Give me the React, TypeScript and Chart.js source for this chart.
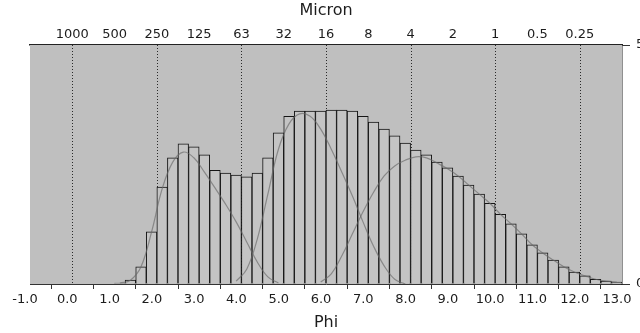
import React, { useEffect, useRef } from "react";
import { Chart, registerables } from "chart.js";

Chart.register(...registerables);

// Phi class start (0.25 phi bins)
const binStart = [1.0, 1.25, 1.5, 1.75, 2.0, 2.25, 2.5, 2.75, 3.0, 3.25, 3.5, 3.75, 4.0, 4.25, 4.5, 4.75, 5.0, 5.25, 5.5, 5.75, 6.0, 6.25, 6.5, 6.75, 7.0, 7.25, 7.5, 7.75, 8.0, 8.25, 8.5, 8.75, 9.0, 9.25, 9.5, 9.75, 10.0, 10.25, 10.5, 10.75, 11.0, 11.25, 11.5, 11.75, 12.0, 12.25, 12.5, 12.75];
const binWidth = 0.25;
// Percent per class
const percent = [0.02, 0.08, 0.36, 1.09, 2.03, 2.64, 2.93, 2.87, 2.7, 2.38, 2.32, 2.28, 2.24, 2.32, 2.64, 3.16, 3.51, 3.62, 3.62, 3.62, 3.64, 3.64, 3.62, 3.51, 3.39, 3.24, 3.1, 2.95, 2.8, 2.7, 2.55, 2.43, 2.26, 2.07, 1.88, 1.69, 1.46, 1.26, 1.05, 0.82, 0.65, 0.5, 0.36, 0.25, 0.17, 0.1, 0.06, 0.04];

// Fitted components
const comp1X = [1.125, 1.375, 1.625, 1.875, 2.125, 2.375, 2.625, 2.875, 3.125, 3.375, 3.625, 3.875, 4.125, 4.375, 4.625, 4.875];
const comp1Y = [0.02, 0.08, 0.36, 1.09, 1.99, 2.55, 2.76, 2.64, 2.34, 2.01, 1.67, 1.3, 0.88, 0.46, 0.15, 0.02];
const comp2X = [3.875, 4.125, 4.375, 4.625, 4.875, 5.125, 5.375, 5.625, 5.875, 6.125, 6.375, 6.625, 6.875, 7.125, 7.375, 7.625, 7.875];
const comp2Y = [0.06, 0.31, 0.94, 1.88, 2.82, 3.35, 3.56, 3.51, 3.24, 2.82, 2.34, 1.84, 1.3, 0.79, 0.38, 0.1, 0];
const comp3X = [5.875, 6.125, 6.375, 6.625, 6.875, 7.125, 7.375, 7.625, 7.875, 8.125, 8.375, 8.625, 8.875, 9.125, 9.375, 9.625, 9.875, 10.125, 10.375, 10.625, 10.875, 11.125, 11.375, 11.625, 11.875, 12.125, 12.375, 12.625, 12.875];
const comp3Y = [0.04, 0.21, 0.59, 1.05, 1.51, 1.92, 2.26, 2.47, 2.59, 2.66, 2.64, 2.53, 2.41, 2.26, 2.07, 1.88, 1.69, 1.46, 1.26, 1.05, 0.82, 0.65, 0.5, 0.36, 0.25, 0.17, 0.1, 0.06, 0.04];

// Axis labels
const phiMin = -1;
const phiMax = 13;
const micronPhi = [0, 1, 2, 3, 4, 5, 6, 7, 8, 9, 10, 11, 12];
const micronLabels = ["1000", "500", "250", "125", "63", "32", "16", "8", "4", "2", "1", "0.5", "0.25"];
const gridPhi = [0, 2, 4, 6, 8, 10, 12];
const yMax = 5;

const FONT = "'DejaVu Sans', 'Liberation Sans', sans-serif";
const INK = "#1c1c1c";

const plotDecor = {
  id: "plotDecor",
  beforeDatasetsDraw(chart: any) {
    const { ctx, chartArea } = chart;
    const xs = chart.scales.x;
    ctx.save();
    ctx.fillStyle = "#bfbfbf";
    ctx.fillRect(chartArea.left, chartArea.top, chartArea.right - chartArea.left, chartArea.bottom - chartArea.top);
    ctx.strokeStyle = "#2a2a2a";
    ctx.lineWidth = 1;
    ctx.setLineDash([1, 2]);
    for (const v of gridPhi) {
      const px = Math.round(xs.getPixelForValue(v)) + 0.5;
      ctx.beginPath();
      ctx.moveTo(px, chartArea.top);
      ctx.lineTo(px, chartArea.bottom);
      ctx.stroke();
    }
    ctx.restore();
  },
};

export default function App() {
  const ref = useRef<HTMLCanvasElement | null>(null);

  useEffect(() => {
    if (!ref.current) return;
    const toPts = (xs: number[], ys: number[]) => xs.map((x, i) => ({ x, y: ys[i] }));
    const lineStyle = {
      type: "line" as const,
      borderColor: "rgba(105,105,105,0.65)",
      borderWidth: 1.2,
      pointRadius: 0,
      tension: 0.4,
      fill: false,
      order: 0,
    };
    const chart = new Chart(ref.current, {
      type: "bar",
      data: {
        datasets: [
          {
            type: "bar",
            data: binStart.map((s, i) => ({ x: s + binWidth / 2, y: percent[i] })),
            backgroundColor: "#c4c4c4",
            borderColor: "#151515",
            borderWidth: 1,
            barPercentage: 1,
            categoryPercentage: 1,
            order: 1,
          } as any,
          { ...lineStyle, data: toPts(comp1X, comp1Y) } as any,
          { ...lineStyle, data: toPts(comp2X, comp2Y) } as any,
          { ...lineStyle, data: toPts(comp3X, comp3Y) } as any,
        ],
      },
      options: {
        animation: false,
        responsive: false,
        devicePixelRatio: 1,
        layout: { padding: { left: 30, right: 0, top: 0, bottom: 0 } },
        plugins: { legend: { display: false }, tooltip: { enabled: false } },
        scales: {
          x: {
            type: "linear",
            position: "bottom",
            min: phiMin,
            max: phiMax,
            offset: false,
            grid: { display: true, drawOnChartArea: false, drawTicks: true, tickLength: 5, tickColor: "#333", color: "#333" },
            border: { display: true, color: "#333", width: 1 },
            ticks: {
              stepSize: 1,
              autoSkip: false,
              maxRotation: 0,
              padding: 3,
              labelOffset: -5,
              color: INK,
              font: { family: FONT, size: 13 },
              callback: (v: any) => Number(v).toFixed(1),
            },
            title: { display: true, text: "Phi", color: INK, font: { family: FONT, size: 16 }, padding: { top: 0, bottom: 1 } },
            afterFit: (s: any) => { s.height = 49; },
          },
          x2: {
            type: "linear",
            position: "top",
            min: phiMin,
            max: phiMax,
            offset: false,
            grid: { display: false, drawOnChartArea: false, drawTicks: false },
            border: { display: true, color: "#222", width: 1.5 },
            ticks: {
              stepSize: 1,
              autoSkip: false,
              maxRotation: 0,
              padding: 3,
              color: INK,
              font: { family: FONT, size: 13 },
              callback: (v: any) => {
                const i = micronPhi.indexOf(Number(v));
                return i >= 0 ? micronLabels[i] : "";
              },
            },
            title: { display: true, text: "Micron", color: INK, font: { family: FONT, size: 16 }, padding: { top: 1, bottom: 0 } },
            afterFit: (s: any) => { s.height = 45; },
          },
          y: {
            type: "linear",
            position: "right",
            min: 0,
            max: yMax,
            grid: { display: true, drawOnChartArea: false, drawTicks: true, tickLength: 8, tickColor: "#333", color: "#333" },
            border: { display: true, color: "#222", width: 1.5 },
            ticks: {
              stepSize: yMax,
              padding: 6,
              color: INK,
              font: { family: FONT, size: 13 },
            },
            afterFit: (s: any) => { s.width = 38; },
          },
        },
      },
      plugins: [plotDecor],
    });
    return () => chart.destroy();
  }, []);

  return (
    <div style={{ position: "fixed", left: 0, top: 0, width: 640, height: 333, overflow: "hidden", background: "#fff" }}>
      <canvas ref={ref} width={660} height={333} style={{ display: "block" }} />
    </div>
  );
}
